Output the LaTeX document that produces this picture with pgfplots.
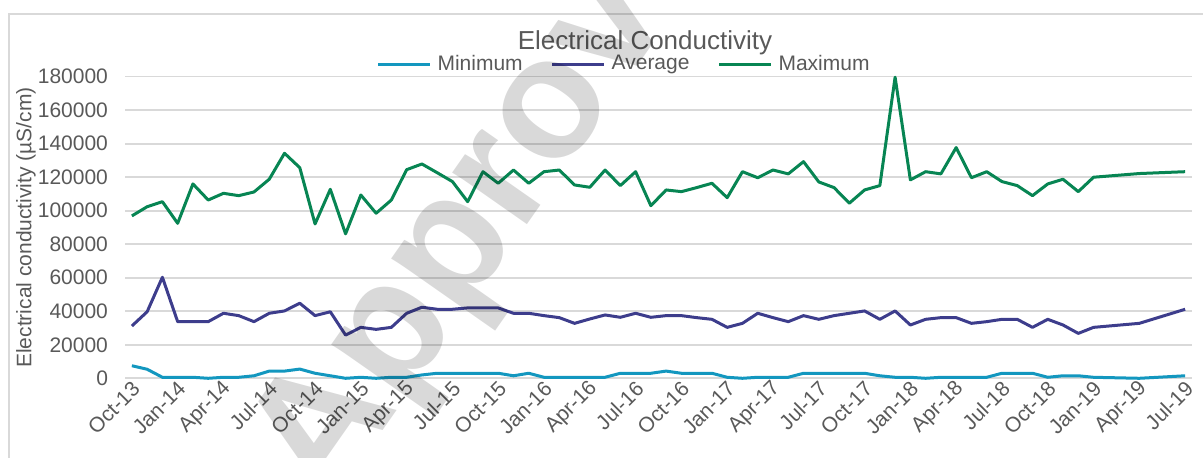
\documentclass[border=0pt]{standalone}
\usepackage{pgfplots}
\pgfplotsset{compat=1.18}
\usepackage{fontspec}
\setmainfont{Liberation Sans}
\definecolor{cmin}{HTML}{1397BF}
\definecolor{cavg}{HTML}{3D3D8C}
\definecolor{cmax}{HTML}{078553}
\definecolor{gridc}{HTML}{D9D9D9}
\definecolor{txt}{HTML}{595959}
\pgfplotstableread{
m v
0 7500
1 5400
2 600
3 600
4 600
5 0
6 600
7 600
8 1500
9 4300
10 4300
11 5500
12 3000
13 1500
14 0
15 600
16 0
17 600
18 600
19 2000
20 3000
21 3000
22 3000
23 3000
24 3000
25 1500
26 3000
27 600
28 600
29 600
30 600
31 600
32 3000
33 3000
34 3000
35 4300
36 3000
37 3000
38 3000
39 600
40 0
41 600
42 600
43 600
44 3000
45 3000
46 3000
47 3000
48 3000
49 1500
50 600
51 600
52 0
53 600
54 600
55 600
56 600
57 3000
58 3000
59 3000
60 600
61 1500
62 1500
63 600
66 0
69 1500
}\tmin
\pgfplotstableread{
m v
0 31200
1 39700
2 60300
3 33800
4 33800
5 33800
6 38800
7 37400
8 33800
9 38800
10 40200
11 44800
12 37400
13 39700
14 25800
15 30400
16 29200
17 30400
18 38800
19 42400
20 41200
21 41200
22 42000
23 42000
24 42000
25 38800
26 38800
27 37400
28 36200
29 32800
30 35400
31 37800
32 36400
33 38800
34 36400
35 37400
36 37400
37 36200
38 35200
39 30400
40 32800
41 38800
42 36200
43 33800
44 37400
45 35200
46 37400
47 38800
48 40200
49 35200
50 40200
51 31800
52 35200
53 36200
54 36200
55 32800
56 33800
57 35200
58 35200
59 30400
60 35200
61 31800
62 26800
63 30400
66 32800
69 41200
}\tavg
\pgfplotstableread{
m v
0 96900
1 102400
2 105400
3 92500
4 116000
5 106400
6 110400
7 109000
8 111200
9 118800
10 134300
11 125700
12 92100
13 112800
14 86200
15 109400
16 98500
17 106400
18 124500
19 127900
20 122700
21 117400
22 105400
23 123300
24 116400
25 124300
26 116400
27 123300
28 124300
29 115400
30 114000
31 124300
32 115000
33 123300
34 103000
35 112400
36 111400
37 113800
38 116400
39 107800
40 123300
41 119700
42 124300
43 122000
44 129300
45 117200
46 113800
47 104500
48 112400
49 115000
50 179700
51 118400
52 123300
53 122000
54 137700
55 119700
56 123300
57 117400
58 115000
59 109000
60 116000
61 118800
62 111400
63 120000
66 122200
69 123300
}\tmax
\begin{document}
\begin{tikzpicture}[x=1pt,y=1pt]
\useasboundingbox (0,0) rectangle (601.5,229);
\draw[color=gridc, line width=1.2pt] (4.5,-20) rectangle (640,222);
\begin{axis}[
  at={(62.5pt,39.85pt)}, anchor=south west,
  scale only axis, width=533.5pt, height=150.8pt,
  xmin=-0.45, xmax=69.45, ymin=0, ymax=180000,
  ytick={0,20000,...,180000},
  scaled y ticks=false,
  yticklabel style={/pgf/number format/fixed, /pgf/number format/1000 sep={}, xshift=-5pt},
  /pgf/number format/assume math mode=true,
  xtick={0,3,...,69},
  xticklabels={Oct-13,Jan-14,Apr-14,Jul-14,Oct-14,Jan-15,Apr-15,Jul-15,Oct-15,Jan-16,Apr-16,Jul-16,Oct-16,Jan-17,Apr-17,Jul-17,Oct-17,Jan-18,Apr-18,Jul-18,Oct-18,Jan-19,Apr-19,Jul-19},
  xticklabel style={rotate=45, anchor=east, xshift=2.5pt, yshift=-4pt},
  tick label style={font=\fontsize{10.5}{12}\selectfont, text=txt},
  major tick length=0pt,
  axis line style={draw=none},
  ymajorgrids, major grid style={draw=gridc, line width=0.8pt},
  every axis y label/.style={at={(rel axis cs:0,0.5)}, xshift=-49.5pt, rotate=90, anchor=center},
  ylabel={Electrical conductivity (µS/cm)},
  label style={font=\fontsize{10.5}{12}\selectfont, text=txt},
  legend columns=3,
  legend style={draw=none, fill=none, at={(0.4677,1.0414)}, anchor=center,
    font=\fontsize{10.5}{12}\selectfont, text=txt,
    nodes={inner sep=1pt},
    /tikz/every odd column/.append style={column sep=2pt},
    /tikz/every even column/.append style={column sep=13pt}},
  legend image code/.code={\draw[#1, line width=1.5pt] (0pt,0pt) -- (26pt,0pt);},
  clip=false,
  every axis plot/.append style={line width=1.5pt, line join=round},
]
\addplot[cmin, mark=none] table[x=m,y=v] {\tmin};
\addlegendentry{Minimum}
\addplot[cavg, mark=none] table[x=m,y=v] {\tavg};
\addlegendentry{Average}
\addplot[cmax, mark=none] table[x=m,y=v] {\tmax};
\addlegendentry{Maximum}
\end{axis}
\node[text=txt, font=\fontsize{13}{15}\selectfont] at (322.5,207.5) {Electrical Conductivity};
\node[rotate=55, font=\fontsize{86}{86}\selectfont\bfseries, text=black, text opacity=0.15] at (261,152) {Approved};
\end{tikzpicture}
\end{document}
